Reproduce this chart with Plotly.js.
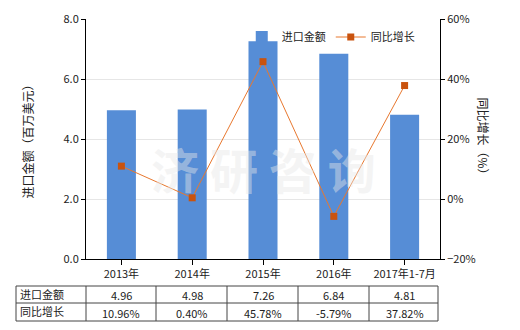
<!DOCTYPE html>
<html><head><meta charset="utf-8">
<script src="https://cdn.plot.ly/plotly-3.0.1.min.js"></script>
<style>body{margin:0;background:#fff}#c{width:520px;height:330px}</style>
</head><body><div id="c"></div>
<script>
const categories = ["2013年","2014年","2015年","2016年","2017年1-7月"];
const importValues = [4.96, 4.98, 7.26, 6.84, 4.81];
const growthValues = [10.96, 0.40, 45.78, -5.79, 37.82];
const importLabels = ["4.96","4.98","7.26","6.84","4.81"];
const growthLabels = ["10.96%","0.40%","45.78%","-5.79%","37.82%"];
const rowNames = ["进口金额","同比增长"];

const font = {family:"'Noto Sans CJK SC', 'DejaVu Sans', sans-serif", size:11, color:"#222"};
const traces = [
  {type:"bar", x:categories, y:importValues, name:"进口金额", marker:{color:"#568dd6"}, width:0.41, yaxis:"y"},
  {type:"scatter", mode:"lines+markers", x:categories, y:growthValues, name:"同比增长", yaxis:"y2",
   line:{color:"#e8782f", width:1}, marker:{symbol:"square", size:7, color:"#c9530e"}}
];

const L=86, R=440, T=19, B=259, W=520, H=330;
const px = v => (v - L)/(R-L);
function pyp(y){ return (B - y)/(B - T); }
const shapes = [];
const tLeft=16, tRight=438, rows=[286,303,321];
const colX=[86,156,227,298,369];
rows.forEach(r=>shapes.push({type:"line", xref:"paper", yref:"paper", x0:px(tLeft), x1:px(tRight), y0:pyp(r), y1:pyp(r), line:{color:"#444", width:1}}));
[tLeft].concat(colX).concat([tRight]).forEach(c=>shapes.push({type:"line", xref:"paper", yref:"paper", x0:px(c), x1:px(c), y0:pyp(rows[0]), y1:pyp(rows[2]), line:{color:"#444", width:1}}));

const annotations = [];
categories.forEach((c,i)=>{
  annotations.push({xref:"x", yref:"paper", x:c, y:pyp(295), text:importLabels[i], showarrow:false, font:font, yanchor:"middle"});
  annotations.push({xref:"x", yref:"paper", x:c, y:pyp(312.5), text:growthLabels[i], showarrow:false, font:font, yanchor:"middle"});
});
rowNames.forEach((n,j)=>annotations.push({xref:"paper", yref:"paper", x:px(18), y:pyp(j===0?294:311), text:n, showarrow:false, font:font, xanchor:"left", yanchor:"middle"}));
annotations.push({xref:"paper", yref:"paper", x:px(16), y:0.5, text:"进口金额（百万美元）", textangle:-90, showarrow:false, font:{...font, size:12}});
annotations.push({xref:"paper", yref:"paper", x:px(494), y:0.5, text:"同比增长（%）", textangle:90, showarrow:false, font:{...font, size:12}});
annotations.push({xref:"paper", yref:"paper", x:0.5, y:0.38, text:"<b>济 研 咨 询</b>", showarrow:false, font:{family:font.family, size:48, color:"rgba(232,232,232,0.45)"}});

const layout = {
  width:520, height:330, margin:{l:86, r:80, t:19, b:71},
  paper_bgcolor:"#fff", plot_bgcolor:"#fff", font:font, showlegend:true,
  legend:{orientation:"h", x:0.44, y:0.925, xanchor:"left", yanchor:"middle", bgcolor:"rgba(0,0,0,0)", font:font, itemwidth:30, tracegroupgap:0},
  bargap:0.59,
  xaxis:{showline:true, linecolor:"#000", ticks:"outside", ticklen:5, tickcolor:"#000", showgrid:false, fixedrange:true, tickfont:font},
  yaxis:{range:[0,8], dtick:2, tickformat:".1f", showline:true, linecolor:"#000", ticks:"outside", ticklen:4, tickcolor:"#000", gridcolor:"#e6e6e6", zeroline:false, tickfont:font},
  yaxis2:{range:[-20,60], dtick:20, ticksuffix:"%", overlaying:"y", side:"right", showline:true, linecolor:"#000", ticks:"outside", ticklen:4, tickcolor:"#000", showgrid:false, zeroline:false, tickfont:font},
  shapes:shapes, annotations:annotations
};
Plotly.newPlot("c", traces, layout, {displayModeBar:false, staticPlot:true});
</script></body></html>
